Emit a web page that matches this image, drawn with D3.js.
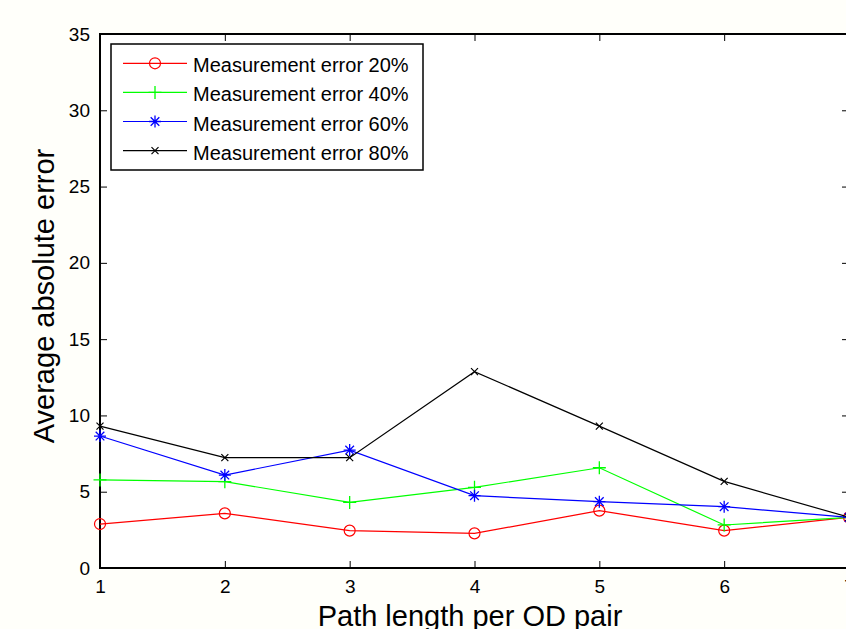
<!DOCTYPE html>
<html>
<head>
<meta charset="utf-8">
<script src="https://cdn.jsdelivr.net/npm/d3@7"></script>
<style>
  html, body { margin: 0; padding: 0; background: #fffffa; overflow: hidden; }
  svg { display: block; }
  text { font-family: "Liberation Sans", Arial, sans-serif; fill: #000; }
</style>
</head>
<body>
<svg id="chart" width="846" height="629"></svg>
<script>
const pathLength = [1, 2, 3, 4, 5, 6, 7];
const err20 = [2.88, 3.58, 2.45, 2.27, 3.76, 2.45, 3.32];
const err40 = [5.77, 5.66, 4.30, 5.29, 6.57, 2.82, 3.32];
const err60 = [8.65, 6.09, 7.73, 4.74, 4.35, 4.02, 3.32];
const err80 = [9.30, 7.23, 7.23, 12.87, 9.30, 5.68, 3.32];
const seriesNames = ["Measurement error 20%", "Measurement error 40%", "Measurement error 60%", "Measurement error 80%"];
const yTicks = [0, 5, 10, 15, 20, 25, 30, 35];
const xTicks = [1, 2, 3, 4, 5, 6, 7];
const xLabel = "Path length per OD pair";
const yLabel = "Average absolute error";

const series = [
  { name: seriesNames[0], values: err20, color: "#ff0000", marker: "circle" },
  { name: seriesNames[1], values: err40, color: "#00ff00", marker: "plus" },
  { name: seriesNames[2], values: err60, color: "#0000ff", marker: "star" },
  { name: seriesNames[3], values: err80, color: "#000000", marker: "x" }
];

const svg = d3.select("#chart");
const L = 100, R = 849, T = 34, B = 568;
const x = d3.scaleLinear().domain([1, 7]).range([L, R]);
const y = d3.scaleLinear().domain([0, 35]).range([B, T]);

// axes background
svg.append("rect").attr("x", L).attr("y", T).attr("width", R - L).attr("height", B - T).attr("fill", "#ffffff");

const tickLen = 7;
// bottom axis
const gx = svg.append("g").attr("transform", `translate(0,${B})`)
  .call(d3.axisBottom(x).tickValues(xTicks).tickFormat(d3.format("d")).tickSizeInner(-tickLen).tickSizeOuter(0).tickPadding(12));
gx.select(".domain").remove();
gx.selectAll("line").attr("stroke", "#000").attr("stroke-width", 1);
gx.selectAll("text").style("font-size", "19px").style("font-family", "Liberation Sans, Arial, sans-serif");

// top axis ticks
const gxt = svg.append("g").attr("transform", `translate(0,${T})`)
  .call(d3.axisTop(x).tickValues(xTicks).tickFormat("").tickSizeInner(-tickLen).tickSizeOuter(0));
gxt.select(".domain").remove();
gxt.selectAll("line").attr("stroke", "#000").attr("stroke-width", 1);

// left axis
const gy = svg.append("g").attr("transform", `translate(${L},0)`)
  .call(d3.axisLeft(y).tickValues(yTicks).tickFormat(d3.format("d")).tickSizeInner(-tickLen).tickSizeOuter(0).tickPadding(10));
gy.select(".domain").remove();
gy.selectAll("line").attr("stroke", "#000").attr("stroke-width", 1);
gy.selectAll("text").style("font-size", "19px").style("font-family", "Liberation Sans, Arial, sans-serif");

// right axis ticks
const gyr = svg.append("g").attr("transform", `translate(${R},0)`)
  .call(d3.axisRight(y).tickValues(yTicks).tickFormat("").tickSizeInner(-tickLen).tickSizeOuter(0));
gyr.select(".domain").remove();
gyr.selectAll("line").attr("stroke", "#000").attr("stroke-width", 1);

// box
svg.append("rect").attr("x", L).attr("y", T).attr("width", R - L).attr("height", B - T)
  .attr("fill", "none").attr("stroke", "#000").attr("stroke-width", 2);

// markers
function drawMarker(g, type, cx, cy, color) {
  if (type === "circle") {
    g.append("circle").attr("cx", cx).attr("cy", cy).attr("r", 5.5)
      .attr("fill", "none").attr("stroke", color).attr("stroke-width", 1.2);
  } else if (type === "plus") {
    const s = 6.5;
    g.append("path").attr("d", `M${cx - s},${cy}H${cx + s}M${cx},${cy - s}V${cy + s}`)
      .attr("stroke", color).attr("stroke-width", 1.3).attr("fill", "none");
  } else if (type === "star") {
    const s = 6, d = s * 0.72;
    g.append("path").attr("d", `M${cx - s},${cy}H${cx + s}M${cx},${cy - s}V${cy + s}M${cx - d},${cy - d}L${cx + d},${cy + d}M${cx - d},${cy + d}L${cx + d},${cy - d}`)
      .attr("stroke", color).attr("stroke-width", 1.3).attr("fill", "none");
  } else if (type === "x") {
    const s = 3.5;
    g.append("path").attr("d", `M${cx - s},${cy - s}L${cx + s},${cy + s}M${cx - s},${cy + s}L${cx + s},${cy - s}`)
      .attr("stroke", color).attr("stroke-width", 1.2).attr("fill", "none");
  }
}

const line = d3.line().x((d, i) => x(pathLength[i])).y(d => y(d));
const plot = svg.append("g");
series.forEach(s => {
  plot.append("path").datum(s.values).attr("d", line)
    .attr("fill", "none").attr("stroke", s.color).attr("stroke-width", 1.2);
  const mg = plot.append("g");
  s.values.forEach((v, i) => drawMarker(mg, s.marker, x(pathLength[i]), y(v), s.color));
});

// legend
const lg = svg.append("g");
lg.append("rect").attr("x", 111).attr("y", 44).attr("width", 312).attr("height", 126)
  .attr("fill", "#ffffff").attr("stroke", "#000").attr("stroke-width", 1.5);
series.forEach((s, i) => {
  const ry = 63.3 + i * 29.1;
  lg.append("line").attr("x1", 123).attr("x2", 187).attr("y1", ry).attr("y2", ry)
    .attr("stroke", s.color).attr("stroke-width", 1.2);
  drawMarker(lg, s.marker, 155, ry, s.color);
  lg.append("text").attr("x", 193).attr("y", ry + 9).style("font-size", "20px").text(s.name);
});

// axis labels
svg.append("text").attr("x", 470).attr("y", 626).attr("text-anchor", "middle")
  .style("font-size", "29px").text(xLabel);
svg.append("text").attr("transform", "translate(54,296) rotate(-90)").attr("text-anchor", "middle")
  .style("font-size", "29px").text(yLabel);
</script>
</body>
</html>
